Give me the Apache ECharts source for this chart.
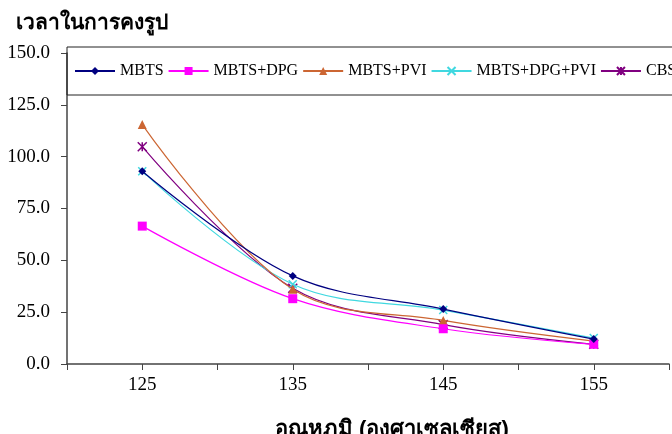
<!DOCTYPE html>
<html><head><meta charset="utf-8">
<script src="https://cdn.jsdelivr.net/npm/echarts@6/dist/echarts.min.js"></script>
<style>html,body{margin:0;padding:0;background:#fff}#c{width:672px;height:434px}</style>
</head><body><div id="c"></div>
<script>
const temps = [125, 135, 145, 155];
const seriesNames = ['MBTS', 'MBTS+DPG', 'MBTS+PVI', 'MBTS+DPG+PVI', 'CBS'];
const mbts = [93, 42.5, 26.5, 12];
const mbtsDpg = [66.5, 31.5, 17, 9.5];
const mbtsPvi = [115.5, 36, 21, 11];
const mbtsDpgPvi = [93, 38.5, 26, 12.5];
const cbs = [104.8, 36.5, 19, 9.5];
const yTicks = [0, 25, 50, 75, 100, 125, 150];
const yTitle = 'เวลาในการคงรูป';
const xTitle = 'อุณหภูมิ (องศาเซลเซียส)';

const values = [mbts, mbtsDpg, mbtsPvi, mbtsDpgPvi, cbs];
const colors = ['#000080', '#FF00FF', '#CC6633', '#40D8E0', '#800080'];
const symbols = ['diamond', 'rect', 'triangle',
  'path://M0,0L10,10M10,0L0,10',
  'path://M0,0L10,10M10,0L0,10M5,0L5,10'];
const sizes = [8, 9, 9, 8, 9];

const chart = echarts.init(document.getElementById('c'));
chart.setOption({
  backgroundColor: '#fff',
  animation: false,
  title: [
    { text: yTitle, left: 11, top: 8,
      textStyle: { fontFamily: 'sans-serif', fontSize: 21, fontWeight: 'bold', color: '#000' } },
    { text: xTitle, left: 270, top: 414,
      textStyle: { fontFamily: 'sans-serif', fontSize: 22, fontWeight: 'bold', color: '#000' } }
  ],
  legend: {
    left: 67, top: 47, width: 720,
    padding: [16, 8, 16, 7],
    itemGap: 4, itemWidth: 40, itemHeight: 10,
    borderColor: '#222', borderWidth: 1,
    textStyle: { fontFamily: 'Liberation Serif', fontSize: 16, color: '#000' },
    data: seriesNames
  },
  grid: { left: 67, right: -2, top: 53, bottom: 70, containLabel: false },
  xAxis: {
    type: 'value', min: 120, max: 160, interval: 5,
    axisLine: { show: true, lineStyle: { color: '#444', width: 1.5 } },
    axisTick: { show: true, length: 6, lineStyle: { color: '#444' } },
    splitLine: { show: false },
    axisLabel: {
      margin: 12, fontFamily: 'Liberation Serif', fontSize: 19, color: '#000',
      formatter: v => temps.indexOf(v) >= 0 ? String(v) : ''
    }
  },
  yAxis: {
    type: 'value', min: yTicks[0], max: yTicks[yTicks.length - 1], interval: 25,
    axisLine: { show: true, lineStyle: { color: '#444', width: 1.5 } },
    axisTick: { show: true, length: 6, lineStyle: { color: '#444' } },
    splitLine: { show: false },
    axisLabel: { margin: 17, fontFamily: 'Liberation Serif', fontSize: 19, color: '#000',
      formatter: v => v.toFixed(1) }
  },
  series: seriesNames.map((n, i) => ({
    name: n, type: 'line', smooth: 0.35,
    data: temps.map((t, j) => [t, values[i][j]]),
    symbol: symbols[i], symbolSize: sizes[i], showSymbol: true,
    lineStyle: { color: colors[i], width: 1.2 },
    itemStyle: { color: colors[i], borderColor: colors[i], borderWidth: (i >= 3 ? 1.5 : 0) },
    z: 10 - i
  }))
});
</script></body></html>
